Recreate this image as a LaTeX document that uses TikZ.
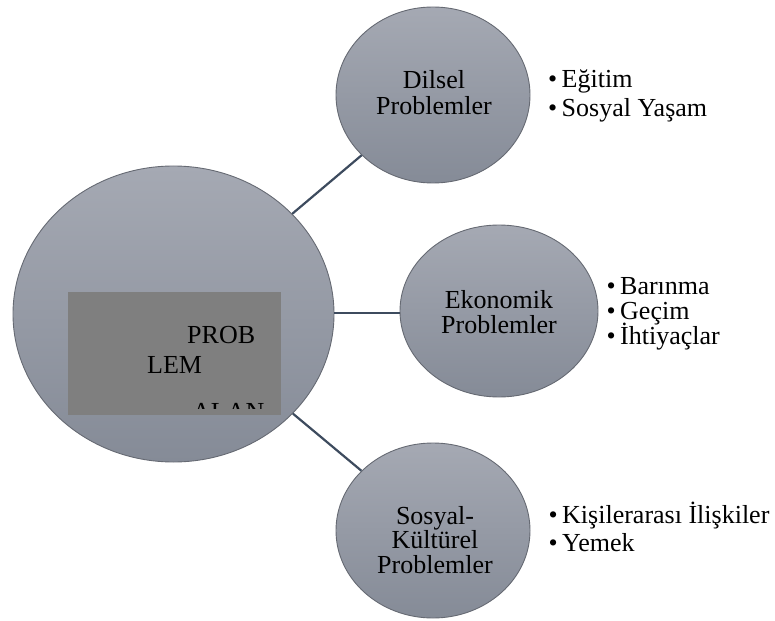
\documentclass[tikz,border=0pt]{standalone}
\usepackage{fontspec}
\setmainfont{Liberation Serif}
\usetikzlibrary{shapes.geometric}
\definecolor{ctop}{HTML}{A5A9B3}
\definecolor{cbot}{HTML}{858B97}
\definecolor{cedge}{HTML}{666A73}
\definecolor{cline}{HTML}{3D4B5E}
\definecolor{cbox}{HTML}{7F7F7F}
\tikzset{
  bubble/.style={ellipse, inner sep=0pt, top color=ctop, bottom color=cbot, draw=cedge, line width=0.9pt},
  conn/.style={draw=cline, line width=2.2pt},
  lbl/.style={anchor=base, inner sep=0pt, font=\fontsize{26}{25}\selectfont},
  item/.style={anchor=base west, inner sep=0pt, font=\fontsize{26}{25}\selectfont},
}
\newcommand{\blt}{\makebox[13.5pt][l]{•}}
\begin{document}
\begin{tikzpicture}[x=1pt,y=-1pt]
\useasboundingbox (0,0) rectangle (775,620);
% bubbles
\node[bubble, minimum width=321pt, minimum height=296pt] (big) at (173.5,314) {};
\node[bubble, minimum width=194pt, minimum height=176pt] (dil) at (433,95) {};
\node[bubble, minimum width=198pt, minimum height=172pt] (eko) at (499,311) {};
\node[bubble, minimum width=194pt, minimum height=175pt] (sos) at (433,530.5) {};
% connectors
\draw[conn] (big) -- (dil);
\draw[conn] (big.east |- 0,313) coordinate (e1) -- (eko.west |- 0,313);
\draw[conn] (big) -- (sos);
% central box
\node[draw=none, fill=cbox, inner sep=0pt, minimum width=213pt, minimum height=123pt] (box) at (174.5,353.5) {};
\node[item] (p1) at (187,343) {PROB};
\node[item] (p2) at (147,373) {LEM};
\begin{scope}
\clip (150,402) rectangle (281,408.5);
\node[item] (p3) at (192,420) {ALAN};
\end{scope}
% bubble labels
\node[lbl] (d1) at (434,89) {Dilsel};
\node[lbl] (d2) at (434,115) {Problemler};
\node[lbl] (k1) at (499,308) {Ekonomik};
\node[lbl] (k2) at (499,333) {Problemler};
\node[lbl] (s1) at (435,524) {Sosyal-};
\node[lbl] (s2) at (435,548.5) {Kültürel};
\node[lbl] (s3) at (435,573) {Problemler};
% lists
\node[item] (a1) at (548,88) {\blt Eğitim};
\node[item] (a2) at (548,117) {\blt Sosyal Yaşam};
\node[item] (b1) at (606.5,294) {\blt Barınma};
\node[item] (b2) at (606.5,319) {\blt Geçim};
\node[item] (b3) at (606.5,344) {\blt İhtiyaçlar};
\node[item] (c1) at (548.5,523) {\blt Kişilerarası İlişkiler};
\node[item] (c2) at (548.5,551) {\blt Yemek};
\end{tikzpicture}
\end{document}
